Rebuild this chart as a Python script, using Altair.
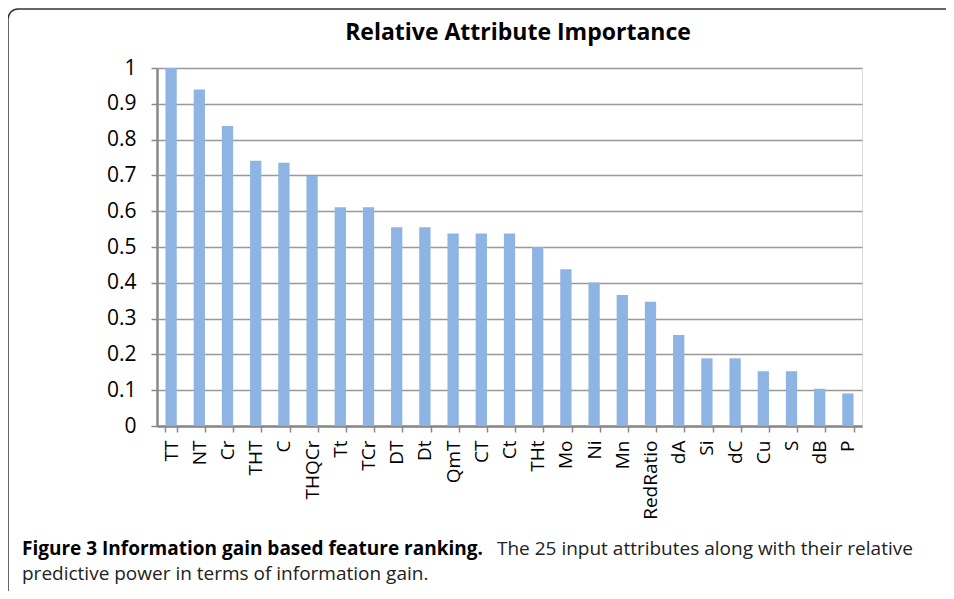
import altair as alt
import pandas as pd
import math

attributes = ["TT", "NT", "Cr", "THT", "C", "THQCr", "Tt", "TCr", "DT", "Dt",
              "QmT", "CT", "Ct", "THt", "Mo", "Ni", "Mn", "RedRatio", "dA", "Si",
              "dC", "Cu", "S", "dB", "P"]
importance = [1.0, 0.94, 0.838, 0.741, 0.735, 0.699, 0.611, 0.611, 0.555, 0.555,
              0.538, 0.538, 0.538, 0.5, 0.438, 0.401, 0.366, 0.347, 0.254, 0.189,
              0.189, 0.153, 0.153, 0.104, 0.091]
y_ticks = [0, 0.1, 0.2, 0.3, 0.4, 0.5, 0.6, 0.7, 0.8, 0.9, 1.0]

chart_title = "Relative Attribute Importance"
caption_bold = "Figure 3 Information gain based feature ranking."
caption_line1 = "The 25 input attributes along with their relative"
caption_line2 = "predictive power in terms of information gain."

df = pd.DataFrame({"attr": attributes, "value": importance})

FONT = "Open Sans"

bars = alt.Chart(df).mark_bar(color="#8DB4E2").encode(
    x=alt.X("attr:N", sort=attributes, title=None,
            scale=alt.Scale(paddingInner=0.6, paddingOuter=0.3),
            axis=alt.Axis(labelAngle=-90, labelFontSize=19, labelFont=FONT,
                          labelColor="#000", labelPadding=8, tickBand="extent",
                          tickSize=6, tickColor="#888", tickWidth=1.5,
                          domainColor="#888", domainWidth=2.5, grid=False,
                          labelAlign="right", labelBaseline="middle")),
    y=alt.Y("value:Q", title=None,
            scale=alt.Scale(domain=[0, 1], nice=False),
            axis=alt.Axis(values=y_ticks, format="~g", labelFontSize=21,
                          labelFont=FONT, labelColor="#000", labelPadding=15,
                          tickSize=6, tickColor="#888", tickWidth=1.5,
                          domainColor="#888", domainWidth=2.5,
                          grid=True, gridColor="#999", gridWidth=1.5)),
)

one = alt.Data(values=[{"a": 1}])

title = alt.Chart(one).mark_text(
    text=chart_title, font=FONT, fontSize=23, fontWeight="bold", color="#000",
    align="center", baseline="middle"
).encode(x=alt.value(361), y=alt.value(-35))

cap_b = alt.Chart(one).mark_text(
    text=caption_bold, font=FONT, fontSize=19, fontWeight="bold", color="#000",
    align="left", baseline="middle"
).encode(x=alt.value(-135), y=alt.value(481))

cap_1 = alt.Chart(one).mark_text(
    text=caption_line1, font=FONT, fontSize=19, color="#222",
    align="left", baseline="middle"
).encode(x=alt.value(340), y=alt.value(481))

cap_2 = alt.Chart(one).mark_text(
    text=caption_line2, font=FONT, fontSize=19, color="#222",
    align="left", baseline="middle"
).encode(x=alt.value(-135), y=alt.value(506))

frame_top = alt.Chart(one).mark_rule(color="#333", strokeWidth=1.5).encode(
    x=alt.value(-139), x2=alt.value(789), y=alt.value(-59))
frame_left = alt.Chart(one).mark_rule(color="#333", strokeWidth=1.5).encode(
    x=alt.value(-149), y=alt.value(-49), y2=alt.value(523))
frame_corner = alt.Chart(one).mark_arc(
    filled=False, fill=None, stroke="#333", strokeWidth=1.5,
    radius=10, radius2=10, theta=1.5 * math.pi, theta2=2 * math.pi
).encode(x=alt.value(-139), y=alt.value(-49))

chart = alt.layer(bars, title, cap_b, cap_1, cap_2,
                  frame_top, frame_left, frame_corner).properties(
    width=705, height=358,
    padding={"left": 149, "top": 60, "right": 84, "bottom": 165},
    autosize=alt.AutoSizeParams(type="none"),
).configure_view(stroke=None).configure(background="white")

chart.save("out.html", embed_options={"renderer": "svg", "actions": False})
